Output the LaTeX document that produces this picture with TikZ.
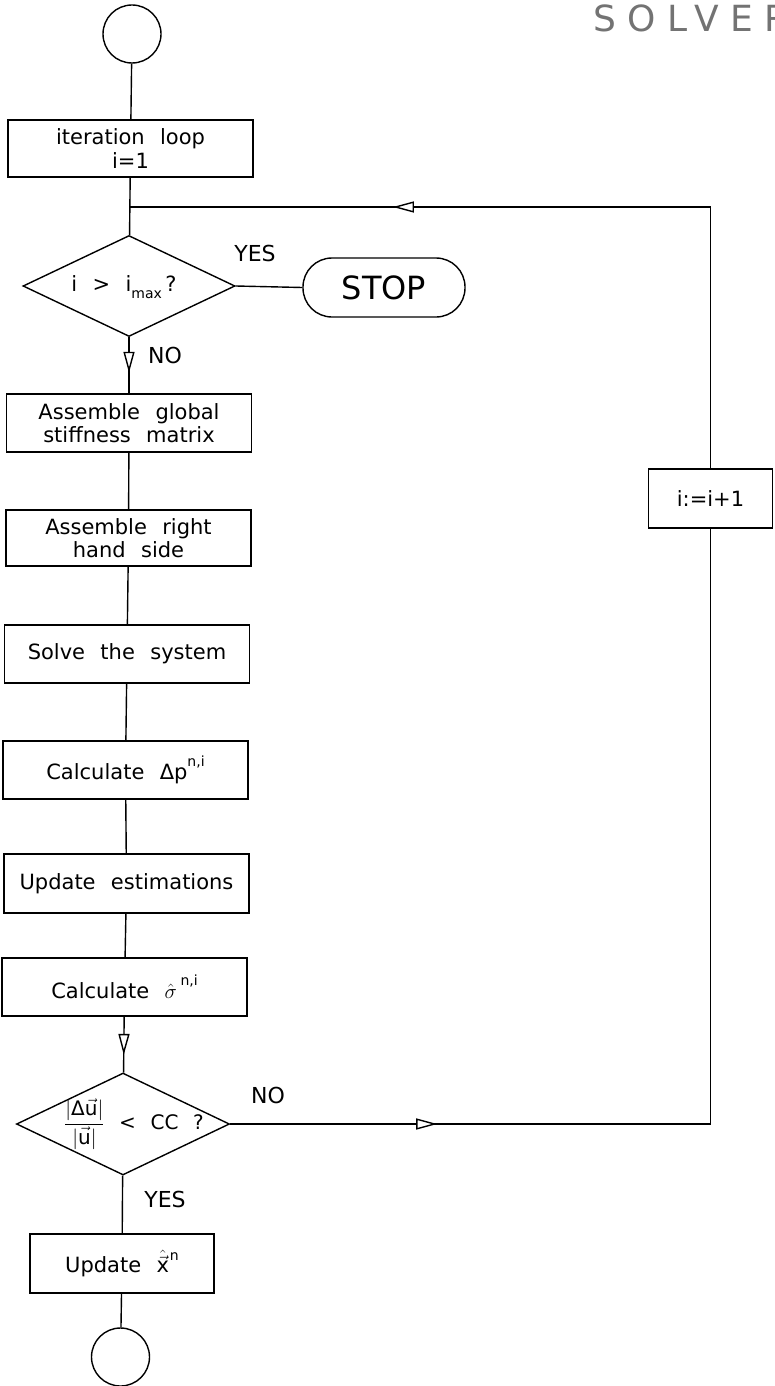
\documentclass[tikz,border=0pt]{standalone}
\usepackage{fontspec}
\setmainfont{DejaVu Sans}[WordSpace=2.3]
\usetikzlibrary{shapes.geometric,arrows.meta,decorations.markings}
\newcommand\sups[1]{\raisebox{0.6em}{\fontsize{14}{14}\selectfont #1}}
\newcommand\subs[1]{\raisebox{-0.35em}{\fontsize{14}{14}\selectfont #1}}
\begin{document}
\begin{tikzpicture}[x=1pt,y=-1pt, line width=1.4pt,
  box/.style={draw, rectangle, minimum width=245pt, minimum height=58pt, inner sep=0pt, align=center, font=\fontsize{21}{23.5}\selectfont},
  diam/.style={draw, diamond, minimum width=212pt, minimum height=101pt, inner sep=0pt},
  term/.style={draw, circle, minimum size=58pt, inner sep=0pt},
  lbl/.style={font=\fontsize{22}{22}\selectfont, inner sep=0pt},
  tri/.style={postaction={decorate,decoration={markings,mark=at position #1 with {\arrow{Triangle[length=21pt,width=11pt,fill=white]}}}}}
]
\useasboundingbox (0,0) rectangle (774,1386);

% title (cut by the right edge)
\begin{scope}
\clip (0,0) rectangle (774,1386);
\node[anchor=base west, inner sep=0pt, text=black!55, font=\fontsize{36}{36}\selectfont\addfontfeature{LetterSpace=31}] (title) at (593,32) {SOLVER};
\end{scope}

% nodes
\node[term] (c1) at (132,34) {};
\node[box, minimum height=57pt] (b1) at (130.5,148.5) {iteration loop\\i=1};
\coordinate (j1) at (130,207);
\node[diam] (d1) at (129,286) {};
\node[inner sep=0pt, font=\fontsize{21}{21}\selectfont] (d1t) at (124,287) {i > i\subs{max}\,?};
\node[draw, rounded corners=29pt, minimum width=162pt, minimum height=59pt, font=\fontsize{32}{32}\selectfont] (stop) at (384,287.5) {STOP};
\node[lbl] (yes1) at (255,253) {YES};
\node[lbl] (no1) at (165,355) {NO};
\node[box] (b2) at (129,423) {Assemble global\\stiffness matrix};
\node[box, minimum height=56pt] (b3) at (128.5,538) {Assemble right\\hand side};
\node[box] (b4) at (127,654) {Solve the system};
\node[box] (b5) at (125.5,770) {Calculate Δp\sups{n,i}};
\node[box, minimum height=59pt] (b6) at (126.5,883.5) {Update estimations};
\node[box] (b7) at (124.5,987) {Calculate $\hat{\sigma}$\,\sups{n,i}};
\node[diam, minimum width=213pt, minimum height=102pt] (d2) at (123,1124) {};
\node[inner sep=0pt, font=\fontsize{20}{20}\selectfont] (d2t) at (134,1124) {$\displaystyle\frac{|\mbox{Δ}\vec{\mbox{u}}|}{|\vec{\mbox{u}}|}$ < CC ?};
\node[lbl] (no2) at (268,1095) {NO};
\node[lbl] (yes2) at (165,1199) {YES};
\node[box, minimum width=184pt, minimum height=59pt] (b8) at (122,1263.5) {Update $\hat{\vec{\mbox{x}}}$\kern1pt\sups{n}};
\node[term] (c2) at (120.5,1357) {};
\node[box, minimum width=124pt, minimum height=59pt] (inc) at (710.5,498.5) {i:=i+1};
\coordinate (nc) at (710.5,1124);
\coordinate (lc) at (710.5,207);

% connectors
\draw (c1) -- (b1);
\draw (b1) -- (d1);
\draw (d1.east) -- (stop.west);
\draw[tri=0.635] (d1) -- (b2);
\draw (b2) -- (b3);
\draw (b3) -- (b4);
\draw (b4) -- (b5);
\draw (b5) -- (b6);
\draw (b6) -- (b7);
\draw[tri=0.684] (b7) -- (d2);
\draw (d2) -- (b8);
\draw (b8) -- (c2);
\draw[tri=0.431] (d2.east) -- (nc);
\draw (nc) -- (inc);
\draw (inc) -- (lc);
\draw[tri=0.547] (lc) -- (j1);
\end{tikzpicture}
\end{document}
